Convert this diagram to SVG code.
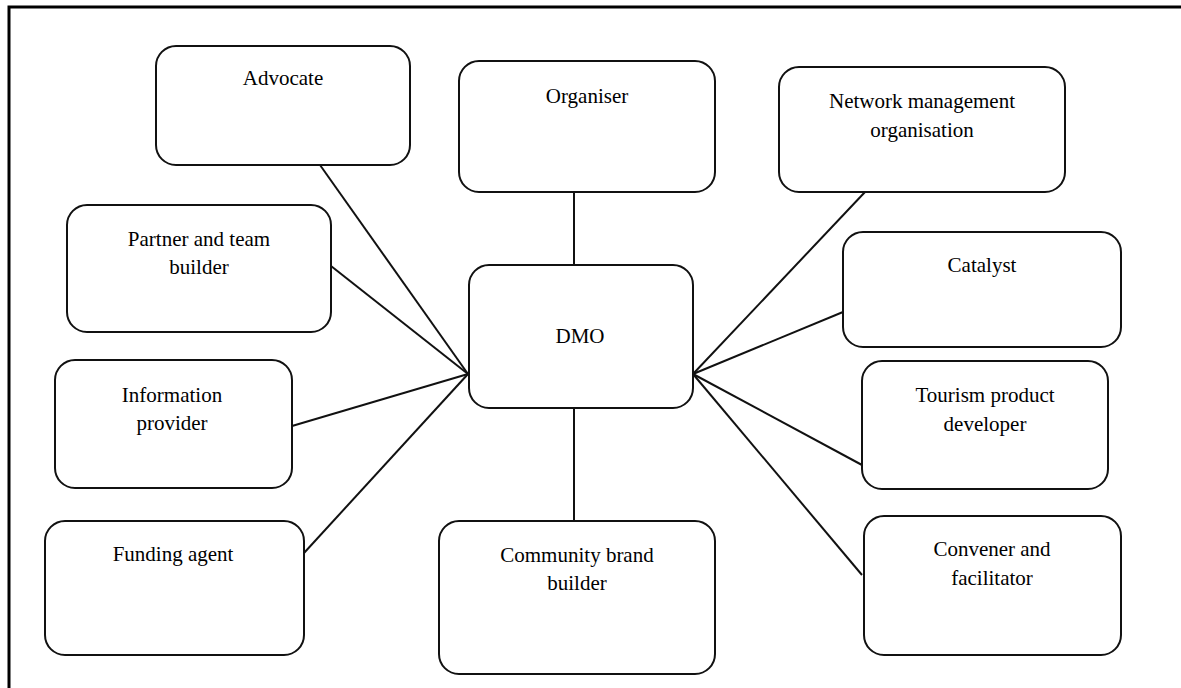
<svg xmlns="http://www.w3.org/2000/svg" width="1181" height="688" viewBox="0 0 1181 688">
<style>
.box{fill:#fff;stroke:#111;stroke-width:2}
.ln{stroke:#111;stroke-width:2;fill:none}
.frame{stroke:#000;stroke-width:3;fill:none}
text{font-family:"Liberation Serif","Times New Roman",serif;font-size:21px;fill:#000;text-anchor:middle}
</style>
<rect width="1181" height="688" fill="#fff"/>
<g id="frame">
<path class="frame" d="M9,688 V7 H1181"/>
</g>
<g id="connectors">
<line class="ln" x1="320" y1="165" x2="468" y2="374"/>
<line class="ln" x1="331" y1="266" x2="468" y2="374"/>
<line class="ln" x1="292" y1="426" x2="468" y2="374"/>
<line class="ln" x1="304" y1="553" x2="468" y2="374"/>
<line class="ln" x1="574" y1="192" x2="574" y2="265"/>
<line class="ln" x1="574" y1="408" x2="574" y2="521"/>
<line class="ln" x1="865" y1="192" x2="693" y2="374"/>
<line class="ln" x1="843" y1="312" x2="693" y2="374"/>
<line class="ln" x1="862" y1="465" x2="693" y2="374"/>
<line class="ln" x1="862" y1="575" x2="693" y2="374"/>
</g>
<g id="advocate">
<rect class="box" x="156" y="46" width="254" height="119" rx="20"/>
<text x="283" y="85">Advocate</text>
</g>
<g id="organiser">
<rect class="box" x="459" y="61" width="256" height="131" rx="20"/>
<text x="587" y="103">Organiser</text>
</g>
<g id="network">
<rect class="box" x="779" y="67" width="286" height="125" rx="20"/>
<text x="922" y="108">Network management</text>
<text x="922" y="137">organisation</text>
</g>
<g id="partner">
<rect class="box" x="67" y="205" width="264" height="127" rx="20"/>
<text x="199" y="246">Partner and team</text>
<text x="199" y="274">builder</text>
</g>
<g id="dmo">
<rect class="box" x="469" y="265" width="224" height="143" rx="20"/>
<text x="580" y="343">DMO</text>
</g>
<g id="catalyst">
<rect class="box" x="843" y="232" width="278" height="115" rx="20"/>
<text x="982" y="272">Catalyst</text>
</g>
<g id="information">
<rect class="box" x="55" y="360" width="237" height="128" rx="20"/>
<text x="172" y="402">Information</text>
<text x="172" y="430">provider</text>
</g>
<g id="tourism">
<rect class="box" x="862" y="361" width="246" height="128" rx="20"/>
<text x="985" y="402">Tourism product</text>
<text x="985" y="431">developer</text>
</g>
<g id="funding">
<rect class="box" x="45" y="521" width="259" height="134" rx="20"/>
<text x="173" y="561">Funding agent</text>
</g>
<g id="community">
<rect class="box" x="439" y="521" width="276" height="153" rx="20"/>
<text x="577" y="562">Community brand</text>
<text x="577" y="590">builder</text>
</g>
<g id="convener">
<rect class="box" x="864" y="516" width="257" height="139" rx="20"/>
<text x="992" y="556">Convener and</text>
<text x="992" y="585">facilitator</text>
</g>
</svg>
